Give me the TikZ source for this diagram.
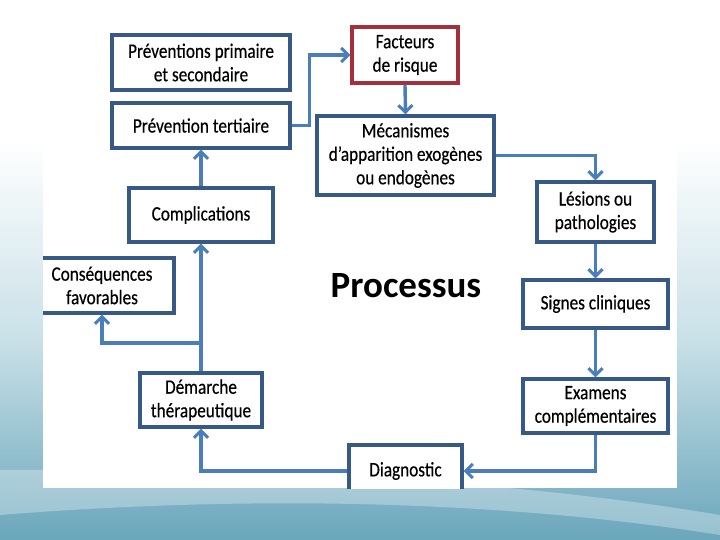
\documentclass[tikz,border=0pt]{standalone}
\usepackage{fontspec}
\setmainfont{Carlito}
\newfontfamily\boxfont[FakeStretch=0.84,FakeBold=0.4]{Carlito}
\usetikzlibrary{arrows.meta}
\definecolor{boxline}{HTML}{365A85}
\definecolor{arrowc}{HTML}{4A7EBB}
\definecolor{redline}{HTML}{A3303A}
\definecolor{teal1}{HTML}{6AA6BB}
\definecolor{teal2}{HTML}{B2D3DE}
\tikzset{
  stepbox/.style={draw=boxline, line width=3.4pt, fill=white, align=center, inner sep=0pt,
    font=\boxfont\fontsize{20.5}{23.5}\selectfont},
  flow/.style={draw=arrowc, line width=3.4pt, -{Straight Barb[length=7pt,width=14pt,line width=3pt]}},
}
\begin{document}
\begin{tikzpicture}[x=1pt,y=-1pt]
\useasboundingbox (0,0) rectangle (720,540);
% slide background
\fill[white] (0,0) rectangle (720,140);
\shade[top color=white, bottom color=teal2!70] (0,140) rectangle (720,340);
\shade[top color=teal2!70, bottom color=teal1] (0,340) rectangle (720,540);
\fill[white, opacity=0.3] (0,470) .. controls (250,468) and (500,478) .. (720,515) -- (720,535) .. controls (500,500) and (250,495) .. (0,515) -- cycle;
% picture area
\fill[white] (43,30) rectangle (677,488);
\begin{scope}
\clip (43,0) rectangle (677,488);
\node[stepbox, minimum width=178pt, minimum height=55pt] (prev) at (201,62.5) {Préventions primaire\\et secondaire};
\node[stepbox, minimum width=178pt, minimum height=45pt] (tert) at (201,125.5) {Prévention tertiaire};
\node[stepbox, minimum width=144pt, minimum height=54pt] (compl) at (201,215) {Complications};
\node[stepbox, draw=redline, minimum width=106pt, minimum height=56pt] (fact) at (405,55) {Facteurs\\de risque};
\node[stepbox, minimum width=177pt, minimum height=79pt] (meca) at (405.5,155.5) {Mécanismes\\d’apparition exogènes\\ou endogènes};
\node[stepbox, minimum width=117pt, minimum height=60pt] (les) at (595.5,212) {Lésions ou\\pathologies};
\node[stepbox, minimum width=145pt, minimum height=48pt] (sig) at (595.5,304) {Signes cliniques};
\node[stepbox, minimum width=145pt, minimum height=54pt] (exa) at (595.5,406) {Examens\\complémentaires};
\node[stepbox, minimum width=113pt, minimum height=52pt] (diag) at (405.5,471) {Diagnostic};
\node[stepbox, minimum width=122pt, minimum height=54pt] (dem) at (201,400) {Démarche\\thérapeutique};
\node[stepbox, minimum width=144pt, minimum height=55pt] (cons) at (102,285.5) {Conséquences\\favorables};
\node[anchor=base, font=\fontsize{37}{40}\selectfont\bfseries] (proc) at (406,297.7) {Processus};
\coordinate (br) at (201,343);
% connectors
\draw[flow] (tert.east) -- ++(18,0) |- (fact.west);
\draw[flow] (fact.south) -- (meca.north);
\draw[flow] (meca.east) -| (les.north);
\draw[flow] (les.south) -- (sig.north);
\draw[flow] (sig.south) -- (exa.north);
\draw[flow] (exa.south) |- (diag.east);
\draw[flow] (diag.west) -| (dem.south);
\draw[flow] (dem.north) -- (compl.south);
\draw[flow] (br) -| (cons.south);
\draw[flow] (compl.north) -- (tert.south);
\end{scope}
\end{tikzpicture}
\end{document}
